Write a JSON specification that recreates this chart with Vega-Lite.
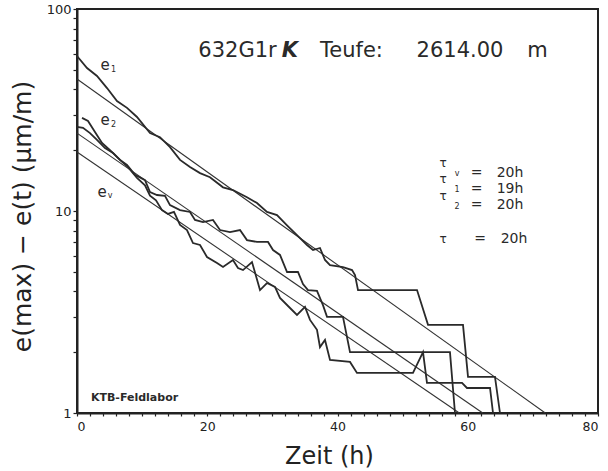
{
  "$schema": "https://vega.github.io/schema/vega-lite/v6.json",
  "width": 521,
  "height": 404,
  "autosize": "none",
  "padding": {"left": 77, "top": 9, "right": 10, "bottom": 58},
  "background": "white",
  "config": {
    "font": "DejaVu Sans",
    "view": {"stroke": "#222", "strokeWidth": 2},
    "axis": {"domainColor": "#222", "domainWidth": 2, "tickColor": "#222", "labelColor": "#222", "titleColor": "#222", "grid": false, "labelFont": "DejaVu Sans", "titleFont": "DejaVu Sans", "titleFontWeight": "normal"}
  },
  "datasets": {
    "curves": [
      {"series": "e1", "i": 0, "t": 0, "v": 58.5},
      {"series": "e1", "i": 1, "t": 1.54, "v": 51.0},
      {"series": "e1", "i": 2, "t": 3.07, "v": 46.6},
      {"series": "e1", "i": 3, "t": 4.61, "v": 40.6},
      {"series": "e1", "i": 4, "t": 6.14, "v": 35.0},
      {"series": "e1", "i": 5, "t": 7.68, "v": 32.4},
      {"series": "e1", "i": 6, "t": 9.21, "v": 29.2},
      {"series": "e1", "i": 7, "t": 11.21, "v": 24.3},
      {"series": "e1", "i": 8, "t": 12.74, "v": 23.2},
      {"series": "e1", "i": 9, "t": 14.28, "v": 20.7},
      {"series": "e1", "i": 10, "t": 15.82, "v": 17.9},
      {"series": "e1", "i": 11, "t": 17.35, "v": 16.5},
      {"series": "e1", "i": 12, "t": 18.89, "v": 15.4},
      {"series": "e1", "i": 13, "t": 20.42, "v": 14.7},
      {"series": "e1", "i": 14, "t": 22.42, "v": 13.1},
      {"series": "e1", "i": 15, "t": 23.95, "v": 12.7},
      {"series": "e1", "i": 16, "t": 26.10, "v": 11.7},
      {"series": "e1", "i": 17, "t": 27.64, "v": 10.95},
      {"series": "e1", "i": 18, "t": 29.17, "v": 9.9},
      {"series": "e1", "i": 19, "t": 30.71, "v": 9.55},
      {"series": "e1", "i": 20, "t": 32.25, "v": 8.5},
      {"series": "e1", "i": 21, "t": 33.78, "v": 7.6},
      {"series": "e1", "i": 22, "t": 35.32, "v": 6.79},
      {"series": "e1", "i": 23, "t": 36.24, "v": 6.41},
      {"series": "e1", "i": 24, "t": 37.31, "v": 6.56},
      {"series": "e1", "i": 25, "t": 38.08, "v": 5.72},
      {"series": "e1", "i": 26, "t": 38.85, "v": 5.40},
      {"series": "e1", "i": 27, "t": 40.84, "v": 5.28},
      {"series": "e1", "i": 28, "t": 42.23, "v": 5.10},
      {"series": "e1", "i": 29, "t": 42.69, "v": 4.82},
      {"series": "e1", "i": 30, "t": 43.15, "v": 4.06},
      {"series": "e1", "i": 31, "t": 52.21, "v": 4.06},
      {"series": "e1", "i": 32, "t": 53.90, "v": 2.73},
      {"series": "e1", "i": 33, "t": 59.27, "v": 2.73},
      {"series": "e1", "i": 34, "t": 60.04, "v": 1.51},
      {"series": "e1", "i": 35, "t": 64.18, "v": 1.51},
      {"series": "e1", "i": 36, "t": 64.95, "v": 1.0},

      {"series": "e2", "i": 0, "t": 0.77, "v": 28.9},
      {"series": "e2", "i": 1, "t": 1.69, "v": 27.9},
      {"series": "e2", "i": 2, "t": 2.76, "v": 24.6},
      {"series": "e2", "i": 3, "t": 3.84, "v": 21.7},
      {"series": "e2", "i": 4, "t": 5.07, "v": 20.0},
      {"series": "e2", "i": 5, "t": 6.60, "v": 17.9},
      {"series": "e2", "i": 6, "t": 7.68, "v": 16.9},
      {"series": "e2", "i": 7, "t": 8.91, "v": 15.1},
      {"series": "e2", "i": 8, "t": 10.44, "v": 14.2},
      {"series": "e2", "i": 9, "t": 11.21, "v": 12.4},
      {"series": "e2", "i": 10, "t": 12.28, "v": 12.0},
      {"series": "e2", "i": 11, "t": 13.51, "v": 11.9},
      {"series": "e2", "i": 12, "t": 14.28, "v": 10.7},
      {"series": "e2", "i": 13, "t": 15.82, "v": 10.1},
      {"series": "e2", "i": 14, "t": 17.35, "v": 9.89},
      {"series": "e2", "i": 15, "t": 18.12, "v": 9.03},
      {"series": "e2", "i": 16, "t": 19.35, "v": 8.82},
      {"series": "e2", "i": 17, "t": 20.88, "v": 9.03},
      {"series": "e2", "i": 18, "t": 21.96, "v": 8.05},
      {"series": "e2", "i": 19, "t": 23.49, "v": 7.87},
      {"series": "e2", "i": 20, "t": 25.03, "v": 8.05},
      {"series": "e2", "i": 21, "t": 26.10, "v": 7.18},
      {"series": "e2", "i": 22, "t": 27.64, "v": 7.03},
      {"series": "e2", "i": 23, "t": 29.33, "v": 7.03},
      {"series": "e2", "i": 24, "t": 30.10, "v": 6.41},
      {"series": "e2", "i": 25, "t": 31.17, "v": 6.06},
      {"series": "e2", "i": 26, "t": 32.25, "v": 4.99},
      {"series": "e2", "i": 27, "t": 33.93, "v": 4.99},
      {"series": "e2", "i": 28, "t": 34.70, "v": 4.35},
      {"series": "e2", "i": 29, "t": 35.47, "v": 4.06},
      {"series": "e2", "i": 30, "t": 36.85, "v": 4.02},
      {"series": "e2", "i": 31, "t": 37.77, "v": 3.42},
      {"series": "e2", "i": 32, "t": 38.39, "v": 2.99},
      {"series": "e2", "i": 33, "t": 40.84, "v": 2.99},
      {"series": "e2", "i": 34, "t": 41.92, "v": 2.0},
      {"series": "e2", "i": 35, "t": 57.27, "v": 2.0},
      {"series": "e2", "i": 36, "t": 58.04, "v": 1.0},

      {"series": "ev", "i": 0, "t": 0, "v": 26.1},
      {"series": "ev", "i": 1, "t": 0.92, "v": 25.8},
      {"series": "ev", "i": 2, "t": 2.0, "v": 24.3},
      {"series": "ev", "i": 3, "t": 3.07, "v": 22.5},
      {"series": "ev", "i": 4, "t": 4.30, "v": 20.5},
      {"series": "ev", "i": 5, "t": 5.53, "v": 19.4},
      {"series": "ev", "i": 6, "t": 6.60, "v": 17.9},
      {"series": "ev", "i": 7, "t": 7.83, "v": 16.5},
      {"series": "ev", "i": 8, "t": 9.21, "v": 14.6},
      {"series": "ev", "i": 9, "t": 10.44, "v": 13.4},
      {"series": "ev", "i": 10, "t": 11.21, "v": 11.9},
      {"series": "ev", "i": 11, "t": 12.13, "v": 11.3},
      {"series": "ev", "i": 12, "t": 13.05, "v": 10.1},
      {"series": "ev", "i": 13, "t": 13.97, "v": 9.67},
      {"series": "ev", "i": 14, "t": 14.89, "v": 9.89},
      {"series": "ev", "i": 15, "t": 15.82, "v": 8.53},
      {"series": "ev", "i": 16, "t": 16.89, "v": 8.05},
      {"series": "ev", "i": 17, "t": 17.81, "v": 6.94},
      {"series": "ev", "i": 18, "t": 18.89, "v": 6.79},
      {"series": "ev", "i": 19, "t": 19.96, "v": 5.92},
      {"series": "ev", "i": 20, "t": 21.50, "v": 5.53},
      {"series": "ev", "i": 21, "t": 22.42, "v": 5.28},
      {"series": "ev", "i": 22, "t": 23.95, "v": 5.72},
      {"series": "ev", "i": 23, "t": 24.72, "v": 5.22},
      {"series": "ev", "i": 24, "t": 25.49, "v": 5.10},
      {"series": "ev", "i": 25, "t": 26.87, "v": 5.59},
      {"series": "ev", "i": 26, "t": 28.10, "v": 4.06},
      {"series": "ev", "i": 27, "t": 29.17, "v": 4.40},
      {"series": "ev", "i": 28, "t": 30.40, "v": 4.21},
      {"series": "ev", "i": 29, "t": 31.17, "v": 3.71},
      {"series": "ev", "i": 30, "t": 32.71, "v": 3.31},
      {"series": "ev", "i": 31, "t": 33.78, "v": 3.06},
      {"series": "ev", "i": 32, "t": 35.01, "v": 3.35},
      {"series": "ev", "i": 33, "t": 35.78, "v": 2.89},
      {"series": "ev", "i": 34, "t": 36.85, "v": 2.58},
      {"series": "ev", "i": 35, "t": 37.31, "v": 2.12},
      {"series": "ev", "i": 36, "t": 38.08, "v": 2.30},
      {"series": "ev", "i": 37, "t": 38.85, "v": 1.83},
      {"series": "ev", "i": 38, "t": 41.92, "v": 1.79},
      {"series": "ev", "i": 39, "t": 42.99, "v": 1.58},
      {"series": "ev", "i": 40, "t": 51.59, "v": 1.58},
      {"series": "ev", "i": 41, "t": 53.13, "v": 2.0},
      {"series": "ev", "i": 42, "t": 53.74, "v": 1.41},
      {"series": "ev", "i": 43, "t": 59.12, "v": 1.41},
      {"series": "ev", "i": 44, "t": 59.88, "v": 1.33},
      {"series": "ev", "i": 45, "t": 63.42, "v": 1.33},
      {"series": "ev", "i": 46, "t": 63.88, "v": 1.0}
    ],
    "fits": [
      {"series": "fit1", "t": 0, "v": 45.0},
      {"series": "fit1", "t": 71.9, "v": 1.0},
      {"series": "fit2", "t": 0, "v": 24.3},
      {"series": "fit2", "t": 62.3, "v": 1.0},
      {"series": "fitv", "t": 0, "v": 19.6},
      {"series": "fitv", "t": 58.7, "v": 1.0}
    ],
    "notes": [
      {"grp": "head", "txt": "632G1r", "t": 24.64, "v": 57.7},
      {"grp": "headK", "txt": "K", "t": 32.7, "v": 57.7},
      {"grp": "head", "txt": "Teufe:", "t": 42.15, "v": 57.7},
      {"grp": "head", "txt": "2614.00", "t": 58.81, "v": 57.7},
      {"grp": "head", "txt": "m", "t": 70.71, "v": 57.7},
      {"grp": "tau", "txt": "τ", "t": 56.2, "v": 16.5},
      {"grp": "tau", "txt": "τ", "t": 56.2, "v": 13.76},
      {"grp": "tau", "txt": "τ", "t": 56.2, "v": 11.34},
      {"grp": "tau", "txt": "τ", "t": 56.2, "v": 6.94},
      {"grp": "sub", "txt": "v", "t": 58.35, "v": 14.9},
      {"grp": "sub", "txt": "1", "t": 58.35, "v": 12.42},
      {"grp": "sub", "txt": "2", "t": 58.35, "v": 10.23},
      {"grp": "val", "txt": "=", "t": 61.37, "v": 14.73},
      {"grp": "val", "txt": "=", "t": 61.37, "v": 12.28},
      {"grp": "val", "txt": "=", "t": 61.37, "v": 10.23},
      {"grp": "val", "txt": "=", "t": 61.88, "v": 6.94},
      {"grp": "val", "txt": "20h", "t": 66.49, "v": 14.73},
      {"grp": "val", "txt": "19h", "t": 66.49, "v": 12.28},
      {"grp": "val", "txt": "20h", "t": 66.49, "v": 10.23},
      {"grp": "val", "txt": "20h", "t": 67.10, "v": 6.94},
      {"grp": "e", "txt": "e", "t": 4.30, "v": 49.9},
      {"grp": "e", "txt": "e", "t": 4.30, "v": 26.7},
      {"grp": "e", "txt": "e", "t": 3.84, "v": 11.73},
      {"grp": "sub", "txt": "1", "t": 5.6, "v": 48.8},
      {"grp": "sub", "txt": "2", "t": 5.6, "v": 26.1},
      {"grp": "sub", "txt": "v", "t": 5.07, "v": 11.6},
      {"grp": "lab", "txt": "KTB-Feldlabor", "t": 8.83, "v": 1.147}
    ]
  },
  "encoding": {
    "x": {
      "field": "t", "type": "quantitative",
      "scale": {"domain": [0, 80], "nice": false, "zero": false},
      "axis": {
        "title": "Zeit  (h)",
        "titleFontSize": 24,
        "titleBaseline": "alphabetic",
        "titleAlign": "center",
        "titleX": 252,
        "titleY": 50,
        "values": [0,2,4,6,8,10,12,14,16,18,20,22,24,26,28,30,32,34,36,38,40,42,44,46,48,50,52,54,56,58,60,62,64,66,68,70,72,74,76,78,80],
        "labelExpr": "datum.value % 20 === 0 ? datum.label : ''",
        "labelFontSize": 12.5,
        "labelPadding": 4,
        "tickSize": 3,
        "tickWidth": 1.2
      }
    },
    "y": {
      "field": "v", "type": "quantitative",
      "scale": {"type": "log", "domain": [1, 100], "nice": false},
      "axis": {
        "title": "e(max) − e(t)   (μm/m)",
        "titleFontSize": 25,
        "titleBaseline": "alphabetic",
        "titleAlign": "center",
        "titleX": -47,
        "titleY": 207,
        "values": [1,2,3,4,5,6,7,8,9,10,20,30,40,50,60,70,80,90,100],
        "labelExpr": "datum.value === 1 || datum.value === 10 || datum.value === 100 ? datum.label : ''",
        "labelFontSize": 13,
        "labelPadding": 2,
        "tickSize": 4,
        "tickWidth": 1.2
      }
    }
  },
  "layer": [
    {
      "data": {"name": "fits"},
      "mark": {"type": "line", "color": "#333", "strokeWidth": 1.1},
      "encoding": {"detail": {"field": "series"}}
    },
    {
      "data": {"name": "curves"},
      "mark": {"type": "line", "color": "#2a2a2a", "strokeWidth": 1.8},
      "encoding": {"detail": {"field": "series"}, "order": {"field": "i", "type": "quantitative"}}
    },
    {
      "data": {"name": "notes"},
      "transform": [{"filter": "datum.grp === 'head'"}],
      "mark": {"type": "text", "fontSize": 21, "align": "center", "baseline": "alphabetic", "color": "#2a2a2a"},
      "encoding": {"text": {"field": "txt"}}
    },
    {
      "data": {"name": "notes"},
      "transform": [{"filter": "datum.grp === 'headK'"}],
      "mark": {"type": "text", "fontSize": 21, "fontWeight": "bold", "fontStyle": "italic", "align": "center", "baseline": "alphabetic", "color": "#2a2a2a"},
      "encoding": {"text": {"field": "txt"}}
    },
    {
      "data": {"name": "notes"},
      "transform": [{"filter": "datum.grp === 'tau'"}],
      "mark": {"type": "text", "fontSize": 12, "align": "center", "baseline": "alphabetic", "color": "#2a2a2a"},
      "encoding": {"text": {"field": "txt"}}
    },
    {
      "data": {"name": "notes"},
      "transform": [{"filter": "datum.grp === 'sub'"}],
      "mark": {"type": "text", "fontSize": 8, "align": "center", "baseline": "alphabetic", "color": "#2a2a2a"},
      "encoding": {"text": {"field": "txt"}}
    },
    {
      "data": {"name": "notes"},
      "transform": [{"filter": "datum.grp === 'val'"}],
      "mark": {"type": "text", "fontSize": 14, "align": "center", "baseline": "alphabetic", "color": "#2a2a2a"},
      "encoding": {"text": {"field": "txt"}}
    },
    {
      "data": {"name": "notes"},
      "transform": [{"filter": "datum.grp === 'e'"}],
      "mark": {"type": "text", "fontSize": 15, "align": "center", "baseline": "alphabetic", "color": "#2a2a2a"},
      "encoding": {"text": {"field": "txt"}}
    },
    {
      "data": {"name": "notes"},
      "transform": [{"filter": "datum.grp === 'lab'"}],
      "mark": {"type": "text", "fontSize": 11, "fontWeight": "bold", "align": "center", "baseline": "alphabetic", "color": "#2a2a2a"},
      "encoding": {"text": {"field": "txt"}}
    }
  ]
}
